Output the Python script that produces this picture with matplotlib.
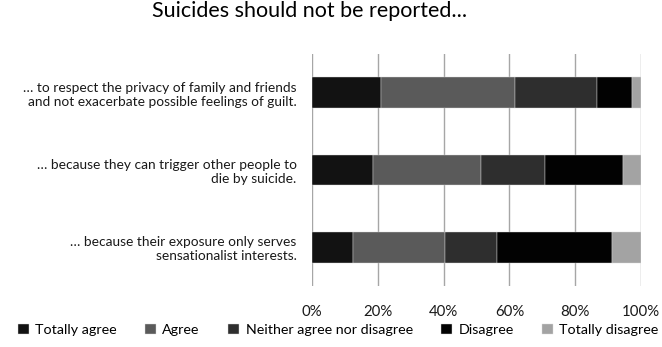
import matplotlib
matplotlib.use("Agg")
import matplotlib.pyplot as plt
import matplotlib.ticker as ticker
import numpy as np

plt.rcParams['font.family'] = ['Lato', 'DejaVu Sans']

# data (percent)
statements = [
    "… to respect the privacy of family and friends\nand not exacerbate possible feelings of guilt.",
    "… because they can trigger other people to\ndie by suicide.",
    "… because their exposure only serves\nsensationalist interests.",
]
responses = ["Totally agree", "Agree", "Neither agree nor disagree",
             "Disagree", "Totally disagree"]
totally_agree = [21.0, 18.6, 12.4]
agree = [40.8, 32.9, 28.1]
neither = [24.7, 19.4, 15.6]
disagree = [10.9, 23.5, 35.2]
totally_disagree = [2.6, 5.6, 8.7]
colors = ["#121212", "#5a5a5a", "#2e2e2e", "#020202", "#a3a3a3"]

series = [totally_agree, agree, neither, disagree, totally_disagree]

fig = plt.figure(figsize=(6.62, 3.47), dpi=100)
ax = fig.add_axes([312 / 662, 1 - 286 / 347, 329 / 662, 232 / 347])

y = np.arange(len(statements))
left = np.zeros(len(statements))
for name, vals, col in zip(responses, series, colors):
    ax.barh(y, vals, left=left, height=0.4, color=col, label=name,
            edgecolor="#d9d9d9", linewidth=0.3, zorder=3)
    left += np.array(vals)

ax.set_xlim(0, 100)
ax.set_ylim(len(statements) - 0.5, -0.5)
ax.set_yticks(y)
ax.set_yticklabels(statements, fontsize=9.9, color="#1a1a1a")
ax.xaxis.set_major_locator(ticker.MultipleLocator(20))
ax.xaxis.set_major_formatter(ticker.FuncFormatter(lambda v, p: "{:.0f}%".format(v)))
ax.tick_params(axis='x', labelsize=10.8, length=0, pad=14, colors="#1a1a1a")
ax.tick_params(axis='y', length=0, pad=11)
ax.grid(axis='x', color="#a6a6a6", linewidth=1, zorder=0)
for s in ax.spines.values():
    s.set_visible(False)

fig.suptitle("Suicides should not be reported...", fontsize=15.5, x=310 / 662,
             y=1 - 1 / 347, va='top')

fig.legend(loc='center', bbox_to_anchor=(0.511, 1 - 330 / 347), ncol=5,
           frameon=False, fontsize=10.3, handlelength=0.75, handleheight=0.75,
           handletextpad=0.45, columnspacing=2.0)

fig.savefig("out.png", dpi=100)
